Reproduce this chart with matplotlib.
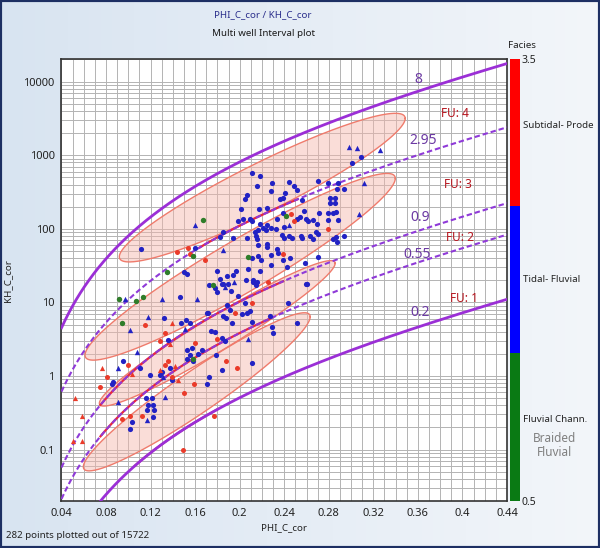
import numpy as np
import matplotlib
matplotlib.use("Agg")
from matplotlib import pyplot as plt
from matplotlib.colors import ListedColormap, LinearSegmentedColormap
from matplotlib.patches import Rectangle
from matplotlib.ticker import MultipleLocator, LogLocator, FuncFormatter, NullFormatter

plt.rcParams["font.family"] = ["Noto Sans", "DejaVu Sans"]

# iso-FZI lines (flow zone indicator)
fzi_solid = [8, 0.2]
fzi_dashed = [2.95, 0.9, 0.55]
# stretches of the FZI lines traced in red (fzi, phi from, phi to)
red_fzi = [2.95, 0.9, 0.55, 0.2]
red_from = [0.164, 0.075, 0.075, 0.106]
red_to = [0.252, 0.239, 0.227, 0.180]

# flow units: left tip, right tip (phi, k) and half height in decades
fu_names = ["FU: 4", "FU: 3", "FU: 2", "FU: 1"]
fu_phi0 = [0.0919, 0.0611, 0.0740, 0.0596]
fu_k0 = [41.7, 1.92, 0.425, 0.0583]
fu_phi1 = [0.3486, 0.3397, 0.2857, 0.2633]
fu_k1 = [3160, 484, 33.9, 6.37]
fu_half = [0.37, 0.41, 0.27, 0.34]

# points by facies / marker
blue_circ = [
    (0.1114, 53), (0.1600, 55), (0.1501, 26), (0.1525, 24), (0.1725, 17),
    (0.3007, 773), (0.3091, 933), (0.2114, 565), (0.2183, 520), (0.2288, 413),
    (0.2282, 329), (0.2447, 435), (0.2492, 380), (0.2513, 336), (0.2159, 380),
    (0.2408, 303), (0.2363, 251), (0.2393, 259), (0.2063, 287), (0.2048, 254),
    (0.2012, 187), (0.2174, 187), (0.2243, 189), (0.2707, 450), (0.2791, 423),
    (0.2881, 423), (0.2872, 343), (0.2932, 343), (0.2812, 259), (0.2857, 264),
    (0.2857, 221), (0.2809, 221), (0.2713, 162), (0.2557, 245), (0.2575, 174),
    (0.2387, 162), (0.2333, 138), (0.2513, 138), (0.2542, 146), (0.2596, 138),
    (0.2617, 129), (0.2662, 131), (0.2692, 118), (0.2791, 162), (0.2842, 162),
    (0.2866, 171), (0.2797, 131), (0.2881, 131), (0.2093, 138), (0.2114, 129),
    (0.1982, 127), (0.2027, 138), (0.2183, 118), (0.2213, 101), (0.2168, 96),
    (0.2138, 91), (0.2147, 80), (0.2243, 112), (0.2234, 96), (0.2282, 104),
    (0.2327, 100), (0.2399, 107), (0.2378, 82), (0.2402, 74), (0.2447, 80),
    (0.2468, 76), (0.2548, 81), (0.2557, 76), (0.2632, 80), (0.2707, 85),
    (0.2683, 90), (0.2662, 72), (0.2836, 72), (0.2866, 78), (0.2932, 80),
    (0.2063, 74), (0.2153, 72), (0.2168, 60), (0.2243, 63), (0.2249, 57),
    (0.2333, 54), (0.2282, 44), (0.2348, 47), (0.2387, 38), (0.2453, 40),
    (0.1943, 76), (0.1848, 91), (0.1824, 78), (0.2168, 43), (0.2192, 38),
    (0.2108, 40), (0.2282, 32), (0.2183, 27), (0.2078, 28), (0.2423, 30),
    (0.2587, 34), (0.2707, 42), (0.2872, 67), (0.1794, 27), (0.1884, 23),
    (0.1943, 23.5), (0.1824, 21), (0.1848, 18), (0.1899, 18), (0.1967, 27),
    (0.2054, 20), (0.2123, 20), (0.2147, 17), (0.2596, 18),
    (0.1465, 11.7), (0.1719, 7.1), (0.1321, 6.2), (0.1471, 5.3), (0.1519, 5.8),
    (0.1555, 5.2), (0.1360, 3.1), (0.1525, 2.25), (0.1570, 2.4), (0.1630, 2.0),
    (0.1660, 2.25), (0.0956, 1.6), (0.0851, 0.78), (0.0866, 0.84), (0.1106, 1.3),
    (0.1195, 1.03), (0.1285, 1.03), (0.1300, 1.14), (0.1375, 1.27), (0.1390, 0.88),
    (0.1525, 1.7), (0.1555, 1.9), (0.1585, 1.6), (0.1159, 0.50), (0.1210, 0.50),
    (0.1180, 0.40), (0.1225, 0.40), (0.1165, 0.34), (0.1234, 0.34), (0.1219, 0.28),
    (0.1031, 0.24), (0.1016, 0.19),
    (0.1779, 15.5), (0.1794, 13.9), (0.1839, 18), (0.2123, 19), (0.2153, 19),
    (0.2602, 17.7), (0.1922, 14.4), (0.1982, 12.2), (0.1884, 9.2), (0.1914, 8.0),
    (0.2048, 9.7), (0.2018, 6.9), (0.2063, 7.1), (0.2093, 7.7), (0.1710, 7.1),
    (0.1848, 6.5), (0.1878, 6.1), (0.1929, 5.2), (0.2108, 5.5), (0.2273, 6.5),
    (0.2288, 4.7), (0.2438, 9.9), (0.2513, 5.3), (0.2303, 3.8), (0.1743, 4.1),
    (0.1779, 3.9), (0.1839, 3.3), (0.1869, 3.0), (0.1788, 1.9), (0.1839, 1.2),
    (0.2108, 1.5), (0.1725, 0.98), (0.1710, 0.79),
]
blue_tri = [
    (0.2983, 1300), (0.3052, 1260), (0.3067, 159), (0.3112, 414), (0.2447, 112),
    (0.1848, 52), (0.3262, 1170), (0.1599, 111), (0.0971, 11), (0.1300, 11),
    (0.1615, 11), (0.1016, 4.2), (0.1180, 6.3), (0.1510, 4.3), (0.1075, 2.1),
    (0.0911, 1.3), (0.1309, 0.98), (0.0911, 0.45), (0.1330, 0.52), (0.1165, 0.25),
    (0.1952, 19), (0.1869, 16), (0.2078, 3.2),
]
red_circ = [
    (0.1435, 48), (0.1540, 55), (0.1555, 46), (0.1689, 38), (0.2462, 157),
    (0.2492, 129), (0.2797, 98), (0.2393, 45), (0.2258, 19), (0.1150, 4.9),
    (0.1330, 3.8), (0.1285, 3.0), (0.1600, 2.8), (0.0806, 0.98), (0.0746, 0.70),
    (0.1001, 1.4), (0.1360, 1.6), (0.1330, 1.4), (0.1390, 0.98), (0.1591, 0.79),
    (0.1504, 0.58), (0.1016, 0.29), (0.0941, 0.26), (0.1120, 0.29), (0.1495, 0.098),
    (0.1958, 7.1), (0.2108, 9.7), (0.1794, 3.2), (0.1878, 1.6), (0.1979, 1.27),
    (0.1770, 0.29),
]
red_tri = [
    (0.1390, 5.3), (0.1375, 2.7), (0.0761, 1.3), (0.1031, 1.08), (0.1285, 1.2),
    (0.1420, 1.36), (0.1450, 0.88), (0.0521, 0.50), (0.0581, 0.29), (0.0506, 0.13),
    (0.0581, 0.13),
]
green_circ = [
    (0.1674, 131), (0.1584, 43), (0.1351, 26), (0.2414, 149), (0.2072, 42),
    (0.1764, 17), (0.0920, 11), (0.1069, 10.5), (0.1135, 12), (0.0941, 5.3),
    (0.1585, 1.7),
]

facies_names = ["Fluvial Chann.", "Tidal- Fluvial", "Subtidal- Prode"]
facies_colors = ["#0a7a14", "#0000ff", "#ff0000"]


def kozeny(phi, fzi):
    return 1014.0 * fzi ** 2 * phi ** 3 / (1 - phi) ** 2


fig = plt.figure(figsize=(6.0, 5.48), dpi=100)

# light blue background with a dark frame
bg = fig.add_axes([0, 0, 1, 1], zorder=-10)
grad = np.linspace(0, 1, 256).reshape(1, -1)
bg.imshow(grad, aspect="auto", extent=[0, 1, 0, 1],
          cmap=LinearSegmentedColormap.from_list("bg", ["#d8e4f1", "#f3f6fa"]))
bg.set_axis_off()
fig.patches.append(Rectangle((0, 0), 1, 1, transform=fig.transFigure, fill=False,
                             edgecolor="#1d2f63", lw=3))

ax = fig.add_axes([61.5 / 600, 1 - 501 / 548, 445.5 / 600, 441.5 / 548], zorder=1)
ax.set_facecolor("white")
ax.set_yscale("log")
ax.set_xlim(0.04, 0.44)
ax.set_ylim(0.02, 20000)

ax.xaxis.set_major_locator(MultipleLocator(0.04))
ax.xaxis.set_minor_locator(MultipleLocator(0.01))
ax.xaxis.set_major_formatter(FuncFormatter(lambda v, p: "%g" % round(v, 2)))
ax.yaxis.set_major_locator(LogLocator(base=10))
ax.yaxis.set_minor_locator(LogLocator(base=10, subs=np.arange(2, 10)))
ax.yaxis.set_minor_formatter(NullFormatter())
ax.yaxis.set_major_formatter(FuncFormatter(lambda v, p: "%g" % v))
ax.grid(which="both", color="#b3b3b3", lw=0.7)
ax.set_axisbelow(True)
ax.tick_params(which="both", length=0, labelsize=8, colors="#222222", pad=5)
for s in ax.spines.values():
    s.set_color("#333333")
    s.set_linewidth(1.2)

# flow unit envelopes
t = np.linspace(0, 2 * np.pi, 300)
for p0, k0, p1, k1, h in zip(fu_phi0, fu_k0, fu_phi1, fu_k1, fu_half):
    l0, l1 = np.log10(k0), np.log10(k1)
    xs = (p0 + p1) / 2 + (p1 - p0) / 2 * np.cos(t)
    ys = (l0 + l1) / 2 + (l1 - l0) / 2 * np.cos(t) + h * np.sin(t)
    ax.fill(xs, 10 ** ys, facecolor="#f6b5aa", alpha=0.45, edgecolor="none", zorder=2)
    ax.plot(xs, 10 ** ys, color="#ef7b6c", lw=1.0, zorder=3)

phi = np.linspace(0.04, 0.44, 400)
for f, a, b in zip(red_fzi, red_from, red_to):
    pr = np.linspace(a, b, 100)
    ax.plot(pr, kozeny(pr, f), color="#e6283e", lw=1.6, zorder=3)
for f in fzi_solid:
    ax.plot(phi, kozeny(phi, f), color="#9b2fd6", lw=2.0, zorder=4)
for f in fzi_dashed:
    ax.plot(phi, kozeny(phi, f), color="#8f3ad8", lw=1.5, dashes=(2.6, 1.4), zorder=4)

ms = dict(linewidths=0, zorder=5)
ax.scatter(*zip(*blue_circ), s=14, c="#2222c4", marker="o", **ms)
ax.scatter(*zip(*blue_tri), s=15, c="#2222c4", marker="^", **ms)
ax.scatter(*zip(*red_circ), s=13, c="#ea3b2a", marker="o", **ms)
ax.scatter(*zip(*red_tri), s=14, c="#ea3b2a", marker="^", **ms)
ax.scatter(*zip(*green_circ), s=15, c="#2f7d2a", marker="o", **ms)

# FZI and flow unit labels
fzi_lbl = [("8", 0.360, 10800), ("2.95", 0.365, 1600), ("0.9", 0.362, 144),
           ("0.55", 0.359, 45), ("0.2", 0.362, 7.2)]
for s, x, y in fzi_lbl:
    ax.text(x, y, s, color="#6c3aa3", fontsize=10, ha="center", va="center", zorder=6)
fu_lbl_pos = [(0.3935, 3730), (0.396, 405), (0.398, 77), (0.401, 11.4)]
for s, (x, y) in zip(fu_names, fu_lbl_pos):
    ax.text(x, y, s, color="#b5141d", fontsize=8.5, fontweight="bold",
            ha="center", va="center", zorder=6)

ax.set_xlabel("PHI_C_cor", fontsize=7, color="#222222", labelpad=3)
ax.set_ylabel("KH_C_cor", fontsize=7, color="#222222", labelpad=8)

fig.text(263 / 600, 1 - 15 / 548, "PHI_C_cor / KH_C_cor", color="#2b2f8c",
         fontsize=7, ha="center", va="center")
fig.text(263 / 600, 1 - 34 / 548, "Multi well Interval plot", color="#1a1a1a",
         fontsize=7, ha="center", va="center")
fig.text(6 / 600, 1 - 535 / 548, "282 points plotted out of 15722", color="#222222",
         fontsize=7, ha="left", va="center")

# facies colour bar
cax = fig.add_axes([509.5 / 600, 1 - 501 / 548, 9.5 / 600, 441.5 / 548], zorder=1)
cax.imshow(np.array([[3], [2], [1]]), cmap=ListedColormap(facies_colors),
           vmin=0.5, vmax=3.5, aspect="auto", extent=[0, 1, 0.5, 3.5])
cax.set_xticks([])
cax.yaxis.tick_right()
cax.set_yticks([0.5, 3.5])
cax.set_yticklabels(["0.5", "3.5"])
cax.tick_params(length=0, labelsize=7.5, pad=2, colors="#222222")
for s in cax.spines.values():
    s.set_visible(False)
fig.text(522 / 600, 1 - 45 / 548, "Facies", fontsize=7, ha="center", va="center",
         color="#222222")
for name, y in zip(facies_names, [420, 280, 125]):
    fig.text(523 / 600, 1 - y / 548, name, fontsize=7, ha="left", va="center",
             color="#222222")
fig.text(555 / 600, 1 - 445 / 548, "Braided\nFluvial", fontsize=8.5, ha="center",
         va="center", color="#808080", fontweight="bold", linespacing=1.1)

fig.savefig("out.png", dpi=100)
